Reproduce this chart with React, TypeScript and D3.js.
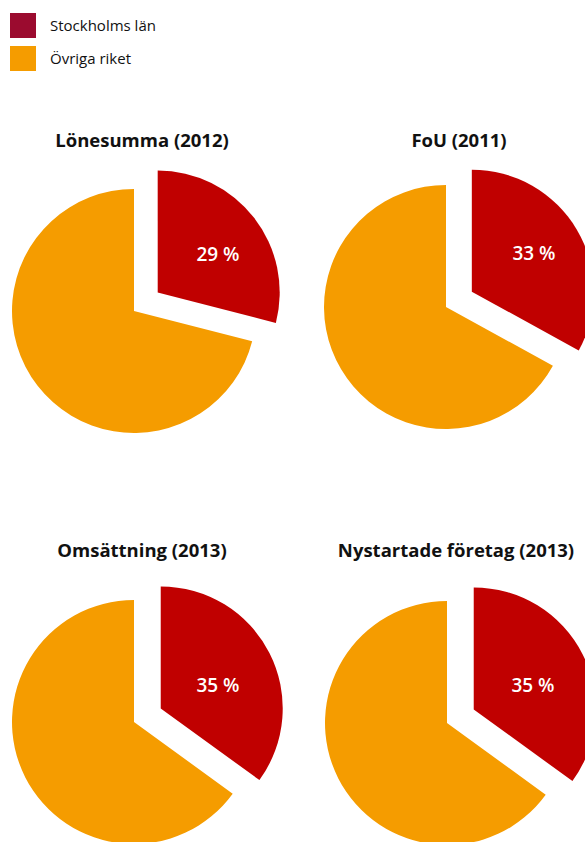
import React from "react";
import * as d3 from "d3";

const titles = ["Lönesumma (2012)", "FoU (2011)", "Omsättning (2013)", "Nystartade företag (2013)"];
const stockholmShare = [29, 33, 35, 35];
const seriesNames = ["Stockholms län", "Övriga riket"];

const width = 585;
const height = 842;
const radius = 122;
const explode = 30;
const font = "'Open Sans', 'Noto Sans', sans-serif";

// pie centres for the 2x2 grid (the FoU pie sits a few px higher)
const pieX = [134, 446, 134, 447];
const pieY = [311, 307, 722, 723];
const titleX = [142, 459, 142, 456];
const titleY = [147, 147, 557, 557];
// label positions inside the red slice
const labelX = [218, 534, 218, 533];
const labelY = [254, 253, 685, 685];

const pieColor = d3.scaleOrdinal<string, string>().domain(seriesNames).range(["#c00000", "#f59c00"]);
const legendColor = d3.scaleOrdinal<string, string>().domain(seriesNames).range(["#9b0b2f", "#f59c00"]);

const pie = d3.pie<{ name: string; value: number }>().sort(null).value(d => d.value);
const arc = d3.arc<d3.PieArcDatum<{ name: string; value: number }>>().innerRadius(0).outerRadius(radius);

const App = () => {
  return (
    <svg width={width} height={height} style={{ position: "absolute", left: 0, top: 0, background: "#fff" }}>
      {/* legend */}
      {seriesNames.map((name, i) => (
        <g key={name} transform={`translate(10,${13 + i * 33})`}>
          <rect width={26} height={25} fill={legendColor(name)} />
          <text x={40} y={18} fontFamily={font} fontSize={15} fill="#111">{name}</text>
        </g>
      ))}

      {titles.map((title, i) => {
        const data = [
          { name: seriesNames[0], value: stockholmShare[i] },
          { name: seriesNames[1], value: 100 - stockholmShare[i] },
        ];
        const arcs = pie(data);
        return (
          <g key={title}>
            <text x={titleX[i]} y={titleY[i]} textAnchor="middle" fontFamily={font} fontSize={18.5} fontWeight={700} fill="#111">
              {title}
            </text>
            <g transform={`translate(${pieX[i]},${pieY[i]})`}>
              {arcs.map((a, j) => {
                const mid = (a.startAngle + a.endAngle) / 2;
                const off = j === 0 ? explode : 0;
                const dx = Math.sin(mid) * off;
                const dy = -Math.cos(mid) * off;
                return (
                  <path key={a.data.name} transform={`translate(${dx},${dy})`} d={arc(a) || ""} fill={pieColor(a.data.name)} />
                );
              })}
            </g>
            <text x={labelX[i]} y={labelY[i]} textAnchor="middle" dominantBaseline="central" fontFamily={font} fontSize={19} fontWeight={600} fill="#fff">
              {`${stockholmShare[i]} %`}
            </text>
          </g>
        );
      })}
    </svg>
  );
};

export default App;
